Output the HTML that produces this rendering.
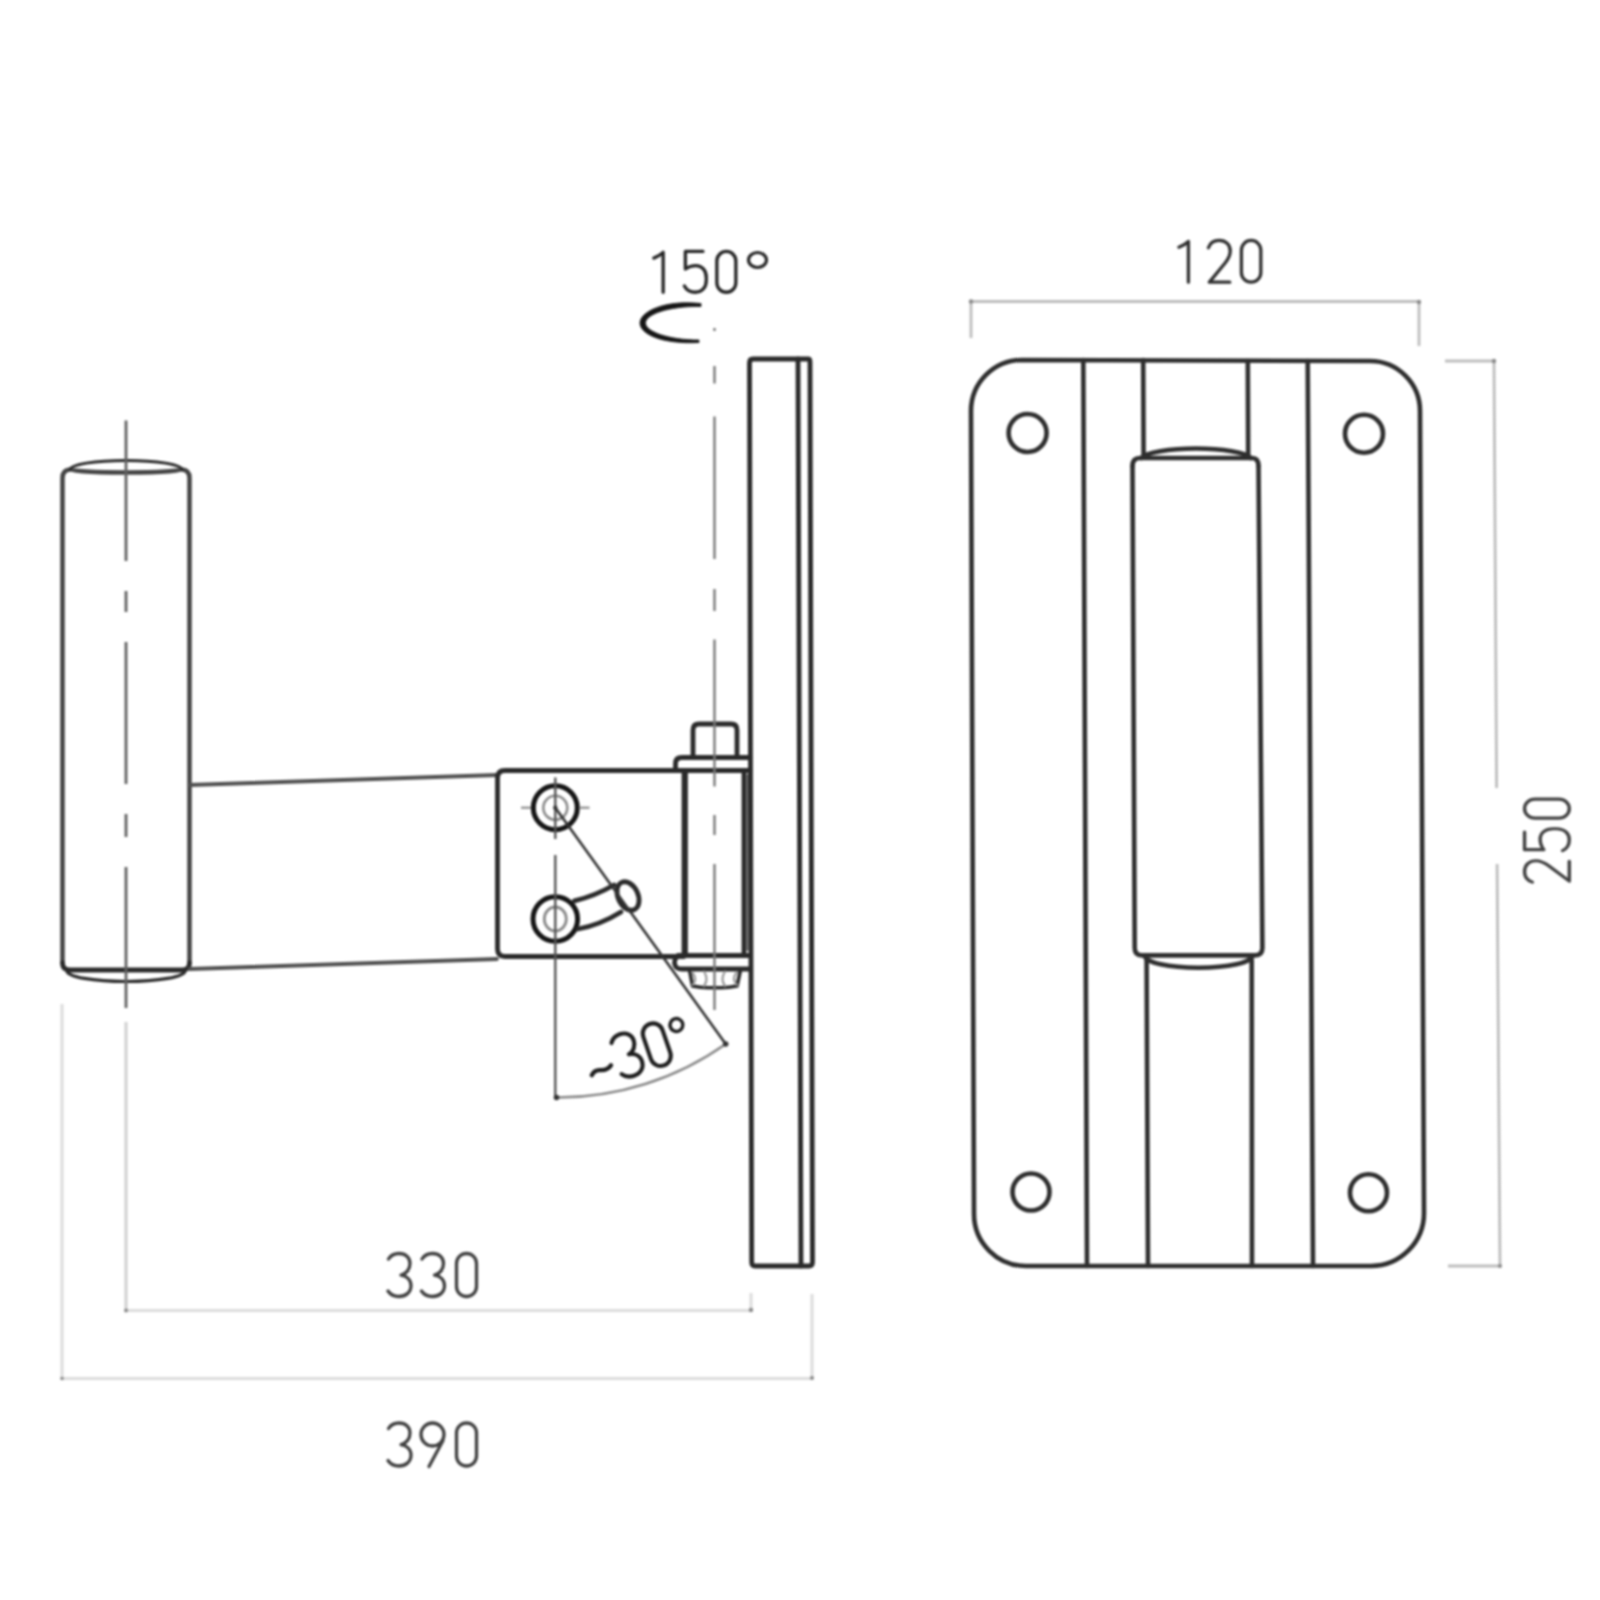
<!DOCTYPE html>
<html><head><meta charset="utf-8"><title>Wall bracket drawing</title>
<style>
html,body{margin:0;padding:0;background:#fff;width:1600px;height:1600px;overflow:hidden;font-family:"Liberation Sans",sans-serif;}
svg{display:block;position:absolute;left:0;top:0;filter:blur(0.8px);}
</style></head>
<body>
<svg width="1600" height="1600" viewBox="0 0 1600 1600">
<defs>
  <g id="d0"><path d="M3,11.5 A10,10 0 0 1 23,11.5 V34.5 A10,10 0 0 1 3,34.5 Z"/></g>
  <g id="d1"><path d="M3,8.5 Q8.5,6.5 12.8,2.5 V44.5"/></g>
  <g id="d2"><path d="M2,9 C4,3.5 8,1.5 13,1.5 C20,1.5 24.5,6 24.5,12.5 C24.5,17 22.5,20.5 19,25 L3,44.5 H24"/></g>
  <g id="d3"><path d="M2.5,7 C5,3 9,1.5 13,1.5 C19.5,1.5 24,5.5 24,11.5 C24,17.5 20,22 15,23 C21,24 25,28 25,33.5 C25,40.5 19.5,44.5 13,44.5 C8,44.5 4,42 2,39"/></g>
  <g id="d5"><path d="M21,1.5 H2.5 V20 C6,17.5 10,16.5 13.5,16.5 C20,16.5 24.5,21.5 24.5,29 V32 C24.5,40 19.5,44.5 13,44.5 C8,44.5 3.5,42 1.5,38"/></g>
  <g id="d3f"><path d="M2.5,1.5 H23 L12.5,19 C20,18.5 25,24 25,31 C25,39.5 19.5,44.5 13,44.5 C8,44.5 4,42 2,39"/></g>
  <g id="d9"><path d="M1.5,13 A11.5,11.5 0 1 0 24.5,13 A11.5,11.5 0 1 0 1.5,13 Z M23.5,19 L9.5,45"/></g>
</defs>

<!-- ================= LEFT VIEW ================= -->
<g fill="none" stroke="#2a2a2a" stroke-width="4.8" stroke-linejoin="round" stroke-linecap="round">
  <!-- tube -->
  <path d="M62.5,963 V478 Q62.5,470 70,469.5 A56,3 0 0 0 182,469.5 Q189.5,470 189.5,478 V963" stroke="#444" stroke-width="4.5"/>
  <path d="M70,469.5 A56,9 0 0 1 182,469.5" stroke-width="3"/>
  <path d="M62.5,963 Q62.5,970 70,970 H182 Q189.5,970 189.5,963"/>
  <path d="M67,971 A59,10.5 0 0 0 185,971" stroke-width="3.2"/>
  <!-- arm -->
  <path d="M189.5,785 L497,775" stroke="#505050" stroke-width="3.8"/>
  <path d="M189.5,969 L497,959" stroke="#505050" stroke-width="3.8"/>
  <!-- clamp plate -->
  <path d="M505,770.5 H684 V956.5 H505 Q497.5,956.5 497.5,949 V778 Q497.5,770.5 505,770.5 Z"/>
  <!-- upper hole -->
  <circle cx="555.3" cy="807.8" r="22" stroke="#151515" stroke-width="5"/>
  <circle cx="555.3" cy="807.8" r="12" stroke="#8a8a8a" stroke-width="2.6"/>
  <!-- lower hole -->
  <circle cx="555.3" cy="919" r="22.3" stroke="#151515" stroke-width="5"/>
  <ellipse cx="555.3" cy="919" rx="11" ry="12" stroke="#8a8a8a" stroke-width="2.8"/>
  <!-- slot -->
  <path d="M574.5,900.8 Q595,896 614,885"/>
  <path d="M578,929 Q600,925 621,912"/>
  <ellipse cx="628" cy="896" rx="10" ry="15" transform="rotate(-25 628 896)"/>
  <!-- hinge -->
  <path d="M675.5,770.5 V763.5 Q675.5,757.5 682,757.5 H750 M675.5,770.5 H750"/>
  <path d="M693,757.5 V730 Q693,724 699,724 H731 Q737,724 737,730 V757.5"/>
  <path d="M685.5,770.5 V955"/>
  <path d="M744,770.5 V955"/>
  <path d="M747.5,775 V950" stroke-width="2" stroke="#555"/>
  <path d="M678,955.5 H750 M678,955.5 Q673,961 675,965 Q676,969 682,969 H750"/>
  <path d="M689.5,970 L692.5,986 Q703,988.5 714.5,987.5 Q726,988.5 737,986 L740.5,970" stroke-width="3.6"/>
  <path d="M692,972 Q698,979 692.5,985 M704,971.5 Q709,979 704,986 M725,971.5 Q720,979 725,986 M737,972 Q731,979 737,985" stroke="#999" stroke-width="2.2"/>
  <!-- wall plate -->
  <path d="M753,359 H808 Q810,359 810,362 L812.5,1262 Q812.5,1266 809,1266 H755 Q751.7,1266 751.7,1262 L749.5,363 Q749.5,359 753,359 Z"/>
  <path d="M798,359 L801,1266"/>
</g>

<!-- centerlines (left view) -->
<g fill="none" stroke="#606060" stroke-width="2.8">
  <path d="M126,420.5 V561 M126,591 V612 M126,642 V784 M126,814 V837 M126,867 V1008"/>
  <path d="M126,1022 V1309" stroke="#d0d0d0" stroke-width="3"/>
  <path d="M714.5,328 V331 M714.5,366 V383.5 M714.5,416.5 V559 M714.5,589 V611 M714.5,639.5 V786.5 M714.5,815 V835 M714.5,864 V1010" stroke="#7a7a7a" stroke-width="2.4"/>
  <!-- lower hole vertical centerline -->
  <path d="M555.3,777.5 V839 M555.3,855 V1097.5" stroke="#555" stroke-width="2.4"/>
  <path d="M521,807.8 H531 M579.5,807.8 H589.5" stroke="#999" stroke-width="2.4"/>
</g>

<!-- angle dimension -->
<g fill="none" stroke="#333" stroke-width="2.6">
  <path d="M555.3,807.8 L725.7,1044"/>
</g>
<g fill="none" stroke="#8a8a8a" stroke-width="2.6">
  <path d="M556.5,1097.5 A290,290 0 0 0 725.7,1044"/>
</g>

<!-- dimension lines -->
<g fill="none" stroke="#dcdcdc" stroke-width="3" stroke-linejoin="round">
  <path d="M126,1310.5 H751 V1293"/>
  <path d="M62,1004 V1378.5 H812 V1294"/>
</g>
<g fill="none" stroke="#bdbdbd" stroke-width="2.8" stroke-linejoin="round">
  <path d="M971,338 V301.5 H1419 V346"/>
  <path d="M1445,361 H1494 L1496.6,788"/>
  <path d="M1497.1,864 L1500,1266 H1448"/>
</g>

<!-- dim end dots -->
<g fill="#8a8a8a" stroke="none">
  <circle cx="126" cy="1310.5" r="2"/><circle cx="751" cy="1310" r="2.2"/>
  <circle cx="62" cy="1378.5" r="1.8"/><circle cx="812" cy="1378" r="2"/>
  <circle cx="971" cy="301.5" r="2.2"/><circle cx="1419" cy="302" r="2.2"/>
  <circle cx="1494" cy="361" r="2.2"/><circle cx="1500" cy="1266" r="2"/>
</g>
<g fill="#333" stroke="none">
  <circle cx="556.5" cy="1097.5" r="2.8"/><circle cx="725.7" cy="1044" r="2.8"/>
  <circle cx="555.3" cy="807.8" r="2.2"/>
</g>
<!-- 150 arc symbol -->
<path d="M701,303.5 C664,299.5 640,312 640,323 C640,334 662,344.5 699,342.5 L699,340 C668,340 645.5,331.5 645.5,323 C645.5,314.5 668,306 701,306.5 Z" fill="#151515" stroke="#151515" stroke-width="0.8"/>

<!-- ================= RIGHT VIEW ================= -->
<g fill="none" stroke="#2e2e2e" stroke-width="4.6" stroke-linejoin="round" stroke-linecap="round">
  <path d="M1022,360 L1370,361 A50,50 0 0 1 1420,411 L1424,1213 A53,53 0 0 1 1371,1266 L1026,1266 A52,52 0 0 1 974,1214 L971,411 A51,51 0 0 1 1022,360 Z"/>
  <path d="M1083.3,360 L1087,1266"/>
  <path d="M1307.7,361 L1313,1266"/>
  <path d="M1143.2,360 L1143.6,456 M1247.8,361 L1248.2,456"/>
  <path d="M1146.6,960 L1148,1266 M1251.7,960 L1252,1266"/>
  <!-- tube -->
  <path d="M1132.5,466 Q1132.5,458 1140,458 H1252 Q1258.5,458 1258.5,466"/>
  <path d="M1141,458 A56,11.7 0 0 1 1251,458"/>
  <path d="M1132.5,466 L1134.7,948 Q1134.7,955.4 1142,955.4 H1255 Q1262.4,955.4 1262.4,948 L1258.5,466"/>
  <path d="M1145,956 A53.5,11.7 0 0 0 1252,956"/>
  <!-- holes -->
  <circle cx="1027.6" cy="433" r="19"/>
  <circle cx="1364" cy="433.7" r="19"/>
  <circle cx="1031" cy="1192" r="18.5"/>
  <circle cx="1368.5" cy="1192.7" r="18.5"/>
</g>

<!-- ================= TEXT ================= -->
<g fill="none" stroke="#404040" stroke-width="3.3" stroke-linecap="round" stroke-linejoin="round">
  <!-- 150° -->
  <g stroke="#262626" stroke-width="3.5">
  <g transform="translate(651,250) scale(0.95)"><use href="#d1"/></g>
  <g transform="translate(683,250) scale(0.95)"><use href="#d5"/></g>
  <g transform="translate(714,250) scale(0.95)"><use href="#d0"/></g>
  <ellipse cx="757.5" cy="260" rx="9" ry="7.5" stroke-width="3.2"/>
  </g>
  <!-- 120 -->
  <g stroke="#303030" stroke-width="3.4">
  <g transform="translate(1176,239) scale(0.97)"><use href="#d1"/></g>
  <g transform="translate(1206.5,239) scale(0.97)"><use href="#d2"/></g>
  <g transform="translate(1238.5,239) scale(0.97)"><use href="#d0"/></g>
  </g>
  <!-- 330 -->
  <g transform="translate(386,1252)"><use href="#d3"/></g>
  <g transform="translate(419.5,1252)"><use href="#d3"/></g>
  <g transform="translate(453.5,1252)"><use href="#d0"/></g>
  <!-- 390 -->
  <g transform="translate(386,1421.5)"><use href="#d3"/></g>
  <g transform="translate(419.5,1421.5)"><use href="#d9"/></g>
  <g transform="translate(453.5,1421.5)"><use href="#d0"/></g>
  <!-- 250 rotated -->
  <g transform="translate(1523,884) rotate(-90)">
    <g transform="translate(0,0) scale(0.95,1.04)"><use href="#d2"/></g>
    <g transform="translate(32,0) scale(0.95,1.04)"><use href="#d5"/></g>
    <g transform="translate(63,0) scale(0.95,1.04)"><use href="#d0"/></g>
  </g>
  <!-- ~30° rotated -->
  <g transform="translate(601.9,1038.8) rotate(-19) scale(1.02)" stroke="#1e1e1e" stroke-width="4">
    <path d="M-21,30.5 C-18,27.5 -15,27 -11.5,28.5 C-8,30 -4,30.5 0,27.5" stroke-width="4.2"/>
    <g transform="translate(5,0)"><use href="#d3"/></g>
    <g transform="translate(36,0)"><use href="#d0"/></g>
    <ellipse cx="73.5" cy="11" rx="6.3" ry="6.3" stroke-width="3.4"/>
  </g>
</g>
</svg>
</body></html>
